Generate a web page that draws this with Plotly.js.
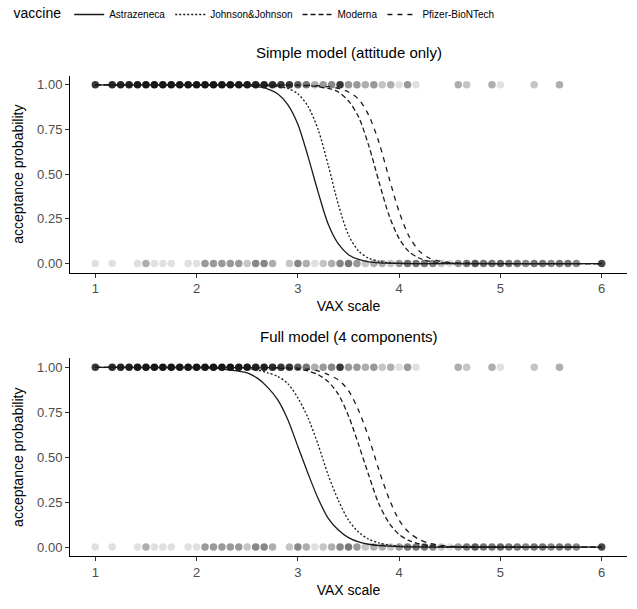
<!DOCTYPE html>
<html>
<head>
<meta charset="utf-8">
<script src="https://cdn.plot.ly/plotly-3.0.1.min.js"></script>
<style>
  html, body { margin: 0; padding: 0; background: #fff; }
  #chart { width: 637px; height: 609px; }
</style>
</head>
<body>
<div id="chart"></div>
<script>
// observed answers: VAX item sum (12 items, 1-6) and number of respondents
const acceptedSum   = [12, 14, 15, 16, 17, 18, 19, 20, 21, 22, 23, 24, 25, 26, 27, 28, 29, 30, 31, 32, 33, 34, 35, 36, 37, 38, 39, 40, 41, 42, 43, 44, 45, 46, 47, 48, 49, 50, 55, 56, 59, 60, 64, 67];
const acceptedCount = [12, 14, 15, 16, 18, 20, 20, 20, 20, 20, 20, 20, 20, 20, 20, 20, 18, 18, 16, 16, 14, 12, 12, 8, 6, 3, 4, 5, 12, 4, 4, 3, 4, 2, 3, 1, 4, 1, 3, 2, 3, 1, 2, 3];

const refusedSum   = [12, 14, 17, 18, 19, 20, 21, 23, 24, 25, 26, 27, 28, 29, 30, 31, 32, 33, 35, 36, 37, 38, 39, 40, 41, 42, 43, 44, 45, 46, 47, 48, 49, 50, 51, 52, 53, 54, 55, 56, 57, 58, 59, 60, 61, 62, 63, 64, 65, 66, 67, 68, 69, 72];
const refusedCount = [1, 1, 1, 3, 1, 1, 1, 1, 1, 4, 4, 4, 4, 4, 2, 5, 5, 3, 2, 5, 3, 1, 2, 3, 5, 6, 4, 2, 3, 3, 2, 4, 6, 6, 6, 5, 2, 1, 4, 6, 8, 6, 6, 7, 6, 6, 5, 6, 6, 5, 6, 6, 5, 10];

// predicted acceptance probability
const vaxGrid = [1, 2, 2.2, 2.4, 2.5, 2.6, 2.7, 2.8, 2.9, 3.0, 3.1, 3.2, 3.3, 3.4, 3.5, 3.6, 3.7, 3.8, 3.9, 4.0, 4.1, 4.2, 4.3, 4.4, 4.5, 4.6, 5, 6];
const vaccines = ['Astrazeneca', 'Johnson&Johnson', 'Moderna', 'Pfizer-BioNTech'];

const simpleAstra   = [1, 1, 1, 0.998, 0.996, 0.99, 0.978, 0.95, 0.89, 0.78, 0.60, 0.40, 0.22, 0.11, 0.05, 0.023, 0.01, 0.004, 0.002, 0.001, 0, 0, 0, 0, 0, 0, 0, 0];
const simpleJJ      = [1, 1, 1, 1, 0.999, 0.998, 0.995, 0.99, 0.98, 0.95, 0.88, 0.75, 0.55, 0.33, 0.16, 0.07, 0.03, 0.013, 0.005, 0.002, 0.001, 0, 0, 0, 0, 0, 0, 0];
const simpleModerna = [1, 1, 1, 1, 1, 1, 0.999, 0.999, 0.998, 0.997, 0.995, 0.99, 0.98, 0.96, 0.91, 0.82, 0.66, 0.46, 0.27, 0.14, 0.065, 0.03, 0.013, 0.006, 0.003, 0.001, 0, 0];
const simplePfizer  = [1, 1, 1, 1, 1, 1, 1, 0.999, 0.999, 0.998, 0.997, 0.995, 0.99, 0.98, 0.96, 0.92, 0.83, 0.68, 0.48, 0.29, 0.15, 0.07, 0.03, 0.014, 0.006, 0.003, 0, 0];

const fullAstra   = [1, 0.998, 0.995, 0.98, 0.97, 0.94, 0.89, 0.82, 0.71, 0.56, 0.41, 0.27, 0.16, 0.095, 0.053, 0.029, 0.016, 0.009, 0.005, 0.0025, 0.001, 0.001, 0, 0, 0, 0, 0, 0];
const fullJJ      = [1, 1, 0.999, 0.996, 0.993, 0.986, 0.97, 0.95, 0.91, 0.83, 0.72, 0.57, 0.40, 0.26, 0.15, 0.083, 0.044, 0.023, 0.012, 0.006, 0.003, 0.0016, 0.001, 0, 0, 0, 0, 0];
const fullModerna = [1, 1, 1, 0.999, 0.999, 0.998, 0.997, 0.995, 0.993, 0.99, 0.98, 0.96, 0.92, 0.85, 0.73, 0.57, 0.40, 0.24, 0.135, 0.07, 0.036, 0.018, 0.009, 0.004, 0.002, 0.001, 0, 0];
const fullPfizer  = [1, 1, 1, 1, 1, 0.999, 0.999, 0.998, 0.997, 0.996, 0.99, 0.98, 0.96, 0.93, 0.87, 0.76, 0.61, 0.43, 0.27, 0.15, 0.08, 0.042, 0.021, 0.010, 0.005, 0.0025, 0, 0];

const dashes = ['solid', '2px,2px', '5px,3px', '5px,5px'];
const FONT = 'Liberation Sans, Arial, sans-serif';

// each dot is semi-transparent black, overlapping answers darken it
const alphaOf = n => 1 - Math.pow(0.88, n);

function pointTraces(xa, ya) {
  const rows = [[acceptedSum, acceptedCount, 1], [refusedSum, refusedCount, 0]];
  return rows.map(([sums, counts, y]) => ({
    x: sums.map(s => s / 12),
    y: sums.map(() => y),
    xaxis: xa, yaxis: ya,
    type: 'scatter', mode: 'markers',
    marker: { color: '#000', size: 7.5, opacity: counts.map(alphaOf), line: { width: 0 } },
    showlegend: false, hoverinfo: 'skip'
  }));
}

function curveTraces(series, xa, ya, legend) {
  return series.map((ys, i) => ({
    x: vaxGrid, y: ys,
    xaxis: xa, yaxis: ya,
    type: 'scatter', mode: 'lines',
    name: vaccines[i],
    legendgroup: vaccines[i],
    showlegend: legend,
    line: { color: '#1a1a1a', width: 1.3, dash: dashes[i], shape: 'spline', smoothing: 0.8 }
  }));
}

const data = [
  ...pointTraces('x', 'y'),
  ...pointTraces('x2', 'y2'),
  ...curveTraces([simpleAstra, simpleJJ, simpleModerna, simplePfizer], 'x', 'y', true),
  ...curveTraces([fullAstra, fullJJ, fullModerna, fullPfizer], 'x2', 'y2', false)
];

function xAxis(domainAnchor) {
  return {
    anchor: domainAnchor, range: [0.75, 6.25], domain: [0, 1],
    tickvals: [1, 2, 3, 4, 5, 6], ticks: 'outside', ticklen: 4, tickcolor: '#333',
    showline: true, linecolor: '#000', linewidth: 1, showgrid: false, zeroline: false,
    tickfont: { family: FONT, size: 13, color: '#4d4d4d' },
    title: { text: 'VAX scale', font: { family: FONT, size: 14, color: '#000' }, standoff: 6 },
    automargin: false
  };
}
function yAxis(domainAnchor, dom) {
  return {
    anchor: domainAnchor, range: [-0.05, 1.05], domain: dom,
    tickvals: [0, 0.25, 0.5, 0.75, 1], ticktext: ['0.00', '0.25', '0.50', '0.75', '1.00'],
    ticks: 'outside', ticklen: 4, tickcolor: '#333',
    showline: true, linecolor: '#000', linewidth: 1, showgrid: false, zeroline: false,
    tickfont: { family: FONT, size: 13, color: '#4d4d4d' },
    title: { text: 'acceptance probability', font: { family: FONT, size: 14, color: '#000' }, standoff: 10 },
    automargin: false
  };
}

const layout = {
  width: 637, height: 609,
  margin: { l: 70, r: 10, t: 0, b: 0 },
  paper_bgcolor: '#fff', plot_bgcolor: '#fff',
  font: { family: FONT },
  xaxis: xAxis('y'),
  yaxis: yAxis('x', [0.5534, 0.8768]),
  xaxis2: xAxis('y2'),
  yaxis2: yAxis('x2', [0.087, 0.4122]),
  legend: {
    orientation: 'h', x: -0.105, xanchor: 'left', y: 1.002, yanchor: 'top',
    title: { text: 'vaccine', font: { family: FONT, size: 14, color: '#000' } },
    font: { family: FONT, size: 10, color: '#000' },
    itemwidth: 30, tracegroupgap: 0, bgcolor: 'rgba(0,0,0,0)'
  },
  annotations: [
    { text: 'Simple model (attitude only)', xref: 'paper', yref: 'paper', x: 0.5, y: 0.915,
      xanchor: 'center', yanchor: 'middle', showarrow: false, font: { family: FONT, size: 15, color: '#000' } },
    { text: 'Full model (4 components)', xref: 'paper', yref: 'paper', x: 0.5, y: 0.448,
      xanchor: 'center', yanchor: 'middle', showarrow: false, font: { family: FONT, size: 15, color: '#000' } }
  ]
};

Plotly.newPlot('chart', data, layout, { responsive: false, displayModeBar: false, staticPlot: true });
</script>
</body>
</html>
